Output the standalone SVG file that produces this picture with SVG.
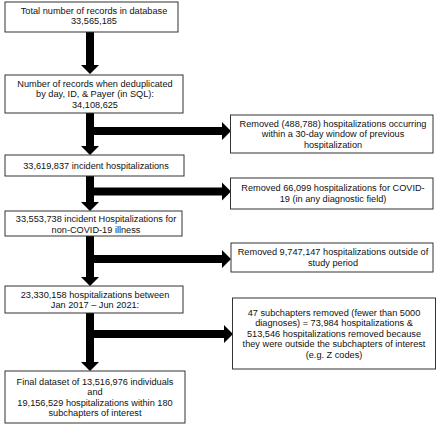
<svg xmlns="http://www.w3.org/2000/svg" width="440" height="426" viewBox="0 0 440 426">
<style>
.box{fill:#fff;stroke:#333;stroke-width:1}
.t{font-family:"Liberation Sans",Arial,sans-serif;font-size:9.2px;fill:#111;text-anchor:middle}
.arr{fill:#000}
</style>
<rect width="440" height="426" fill="#fff"/>
<g id="connectors">
<polygon class="arr" points="86,32 94,32 94,65 99,65 90,74 81,65 86,65"/>
<polygon class="arr" points="86,113 94,113 94,127 222,127 222,122 231,131 222,140 222,135 94,135 94,146 99,146 90,155 81,146 86,146"/>
<polygon class="arr" points="86,176 94,176 94,187.5 222,187.5 222,182.5 231,191.5 222,200.5 222,195.5 94,195.5 94,202 99,202 90,211 81,202 86,202"/>
<polygon class="arr" points="86,236 94,236 94,255 222,255 222,250 231,259 222,268 222,263 94,263 94,277 99,277 90,286 81,277 86,277"/>
<polygon class="arr" points="86,313 94,313 94,330 224,330 224,325 233,334 224,343 224,338 94,338 94,362 99,362 90,371 81,362 86,362"/>
</g>
<g id="n1"><rect class="box" x="5" y="2" width="173" height="30"/>
<text class="t" x="94" y="13.8">Total number of records in database</text>
<text class="t" x="94" y="24.3">33,565,185</text></g>
<g id="n2"><rect class="box" x="5" y="75" width="178" height="38"/>
<text class="t" x="95" y="86.8">Number of records when deduplicated</text>
<text class="t" x="95" y="97.3">by day, ID, &amp; Payer (in SQL):</text>
<text class="t" x="95" y="107.8">34,108,625</text></g>
<g id="r1"><rect class="box" x="230.5" y="115" width="202.5" height="38"/>
<text class="t" x="333" y="126.8">Removed (488,788) hospitalizations occurring</text>
<text class="t" x="333" y="137.3">within a 30-day window of previous</text>
<text class="t" x="333" y="147.8">hospitalization</text></g>
<g id="n3"><rect class="box" x="5" y="155" width="179" height="21"/>
<text class="t" x="96" y="168.8">33,619,837 incident hospitalizations</text></g>
<g id="r2"><rect class="box" x="230.5" y="178" width="202.5" height="31"/>
<text class="t" x="333" y="191">Removed 66,099 hospitalizations for COVID-</text>
<text class="t" x="333" y="201.5">19 (in any diagnostic field)</text></g>
<g id="n4"><rect class="box" x="5" y="211" width="177" height="25"/>
<text class="t" x="96" y="222">33,553,738 incident Hospitalizations for</text>
<text class="t" x="96" y="232.5">non-COVID-19 illness</text></g>
<g id="r3"><rect class="box" x="231" y="243" width="202" height="29"/>
<text class="t" x="333" y="255">Removed 9,747,147 hospitalizations outside of</text>
<text class="t" x="333" y="265.5">study period</text></g>
<g id="n5"><rect class="box" x="5" y="286" width="178" height="27"/>
<text class="t" x="95" y="297.5">23,330,158 hospitalizations between</text>
<text class="t" x="95" y="308">Jan 2017 – Jun 2021:</text></g>
<g id="r4"><rect class="box" x="232.5" y="298" width="203" height="71"/>
<text class="t" x="334" y="315.5">47 subchapters removed (fewer than 5000</text>
<text class="t" x="334" y="326">diagnoses) = 73,984 hospitalizations &amp;</text>
<text class="t" x="334" y="336.5">513,546 hospitalizations removed because</text>
<text class="t" x="334" y="347">they were outside the subchapters of interest</text>
<text class="t" x="334" y="357.5">(e.g. Z codes)</text></g>
<g id="n6"><rect class="box" x="5" y="371" width="180" height="52"/>
<text class="t" x="95" y="384.5">Final dataset of 13,516,976 individuals</text>
<text class="t" x="95" y="395">and</text>
<text class="t" x="95" y="405.5">19,156,529 hospitalizations within 180</text>
<text class="t" x="95" y="416">subchapters of interest</text></g>
</svg>
